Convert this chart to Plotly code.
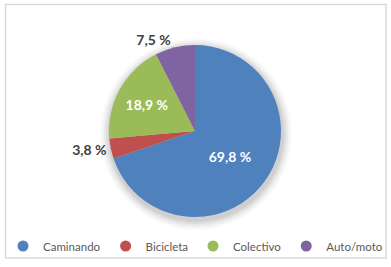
import plotly.graph_objects as go

categories = ["Caminando", "Bicicleta", "Colectivo", "Auto/moto"]
values = [69.8, 3.8, 18.9, 7.5]
colors = ["#4F81BD", "#C0504D", "#9BBB59", "#8064A2"]
text_positions = ["inside", "outside", "inside", "outside"]
text_colors = ["#FFFFFF", "#404040", "#FFFFFF", "#404040"]

W, H = 391, 267
cx, cy, r = 195, 131, 86

fig = go.Figure()
fig.add_trace(go.Pie(
    labels=categories, values=values, sort=False, direction="clockwise", rotation=0,
    marker=dict(colors=colors, line=dict(width=0)),
    textposition=text_positions,
    texttemplate="%{value:.1f} %",
    textfont=dict(family="Lato", size=14, color=text_colors, weight="bold"),
    insidetextorientation="horizontal",
    showlegend=False, hoverinfo="label+value", automargin=False,
    domain=dict(x=[(cx - r) / W, (cx + r) / W], y=[1 - (cy + r) / H, 1 - (cy - r) / H]),
))
for c, col in zip(categories, colors):
    fig.add_trace(go.Scatter(x=[None], y=[None], mode="markers", name=c,
                             marker=dict(symbol="circle", size=11, color=col)))

shapes = []
# soft shadow
for dr, op in [(10, 0.02), (8, 0.03), (6, 0.04), (4, 0.05), (2, 0.06)]:
    shapes.append(dict(type="circle", xref="paper", yref="paper",
                       x0=(cx - r - dr + 1) / W, x1=(cx + r + dr + 1) / W,
                       y0=1 - (cy + r + dr + 3) / H, y1=1 - (cy - r - dr + 3) / H,
                       fillcolor=f"rgba(0,0,0,{op})", line=dict(width=0), layer="below"))
shapes.append(dict(type="rect", xref="paper", yref="paper",
                   x0=5.5 / W, x1=386 / W, y0=1 - 258 / H, y1=1 - 4.5 / H,
                   line=dict(color="#D9D9D9", width=1.5), layer="above"))

fig.update_layout(
    width=W, height=H, margin=dict(l=0, r=0, t=0, b=0, autoexpand=False),
    paper_bgcolor="white", plot_bgcolor="rgba(0,0,0,0)",
    separators=",.",
    xaxis=dict(visible=False), yaxis=dict(visible=False),
    shapes=shapes,
    legend=dict(orientation="h", x=0.5, xanchor="center", y=1 - 246 / H, yanchor="middle",
                font=dict(family="Lato", size=11.5, color="#595959"),
                itemwidth=30, tracegroupgap=0, bgcolor="rgba(0,0,0,0)"),
)
fig.write_html("out.html", config={"displayModeBar": False},
               post_script="document.body.style.margin='0';document.body.style.overflow='hidden';")
